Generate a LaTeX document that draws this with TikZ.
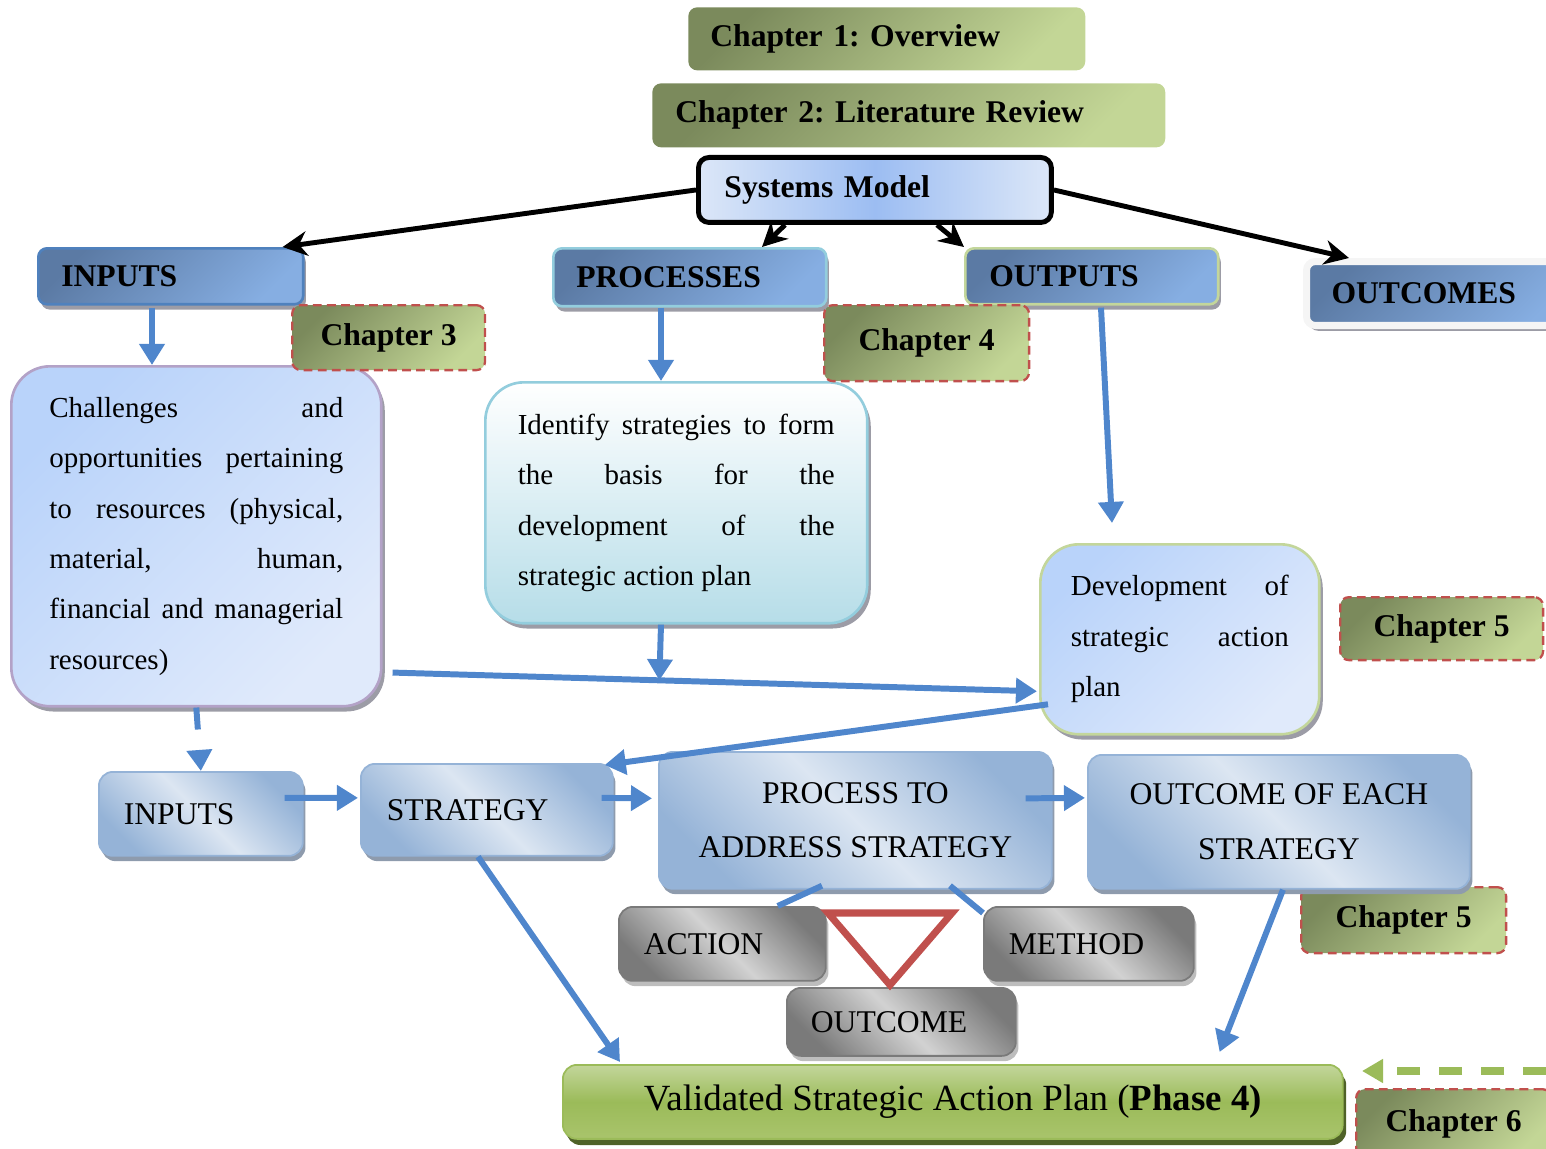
\documentclass[tikz,border=0pt]{standalone}
\usepackage{fontspec}
\setmainfont{Liberation Serif}
\usepackage{tikz}
\usetikzlibrary{arrows.meta,shadows,calc}
\frenchspacing
\newcommand{\FHead}{\fontsize{18}{22}\selectfont\bfseries}
\newcommand{\FText}{\fontsize{16.5}{28.7}\selectfont}
\newcommand{\FStep}{\fontsize{18}{31}\selectfont}
\newcommand{\FPlan}{\fontsize{21}{25}\selectfont}

\definecolor{chdark}{HTML}{7B8A5C}
\definecolor{chlight}{HTML}{C3D696}
\definecolor{chred}{HTML}{C0504D}
\definecolor{cathigh}{HTML}{5B7AA4}
\definecolor{catlow}{HTML}{86AEE2}
\definecolor{catshade}{HTML}{9C9CA6}
\definecolor{inpedge}{HTML}{4F81BD}
\definecolor{procedge}{HTML}{93CDDD}
\definecolor{outpedge}{HTML}{C3D69B}
\definecolor{sysl}{HTML}{DCE7F8}
\definecolor{sysm}{HTML}{9CBDF2}
\definecolor{softa}{HTML}{B9D3FA}
\definecolor{softb}{HTML}{E0EAFB}
\definecolor{softedge}{HTML}{B3A2C7}
\definecolor{identb}{HTML}{B6DDE8}
\definecolor{stepdark}{HTML}{95B3D7}
\definecolor{steplight}{HTML}{DCE6F2}
\definecolor{stepshade}{HTML}{8E9BAD}
\definecolor{greydark}{HTML}{7A7A7A}
\definecolor{greylight}{HTML}{D2D2D2}
\definecolor{greyshade}{HTML}{BDBDBD}
\definecolor{vtop}{HTML}{C3D69B}
\definecolor{vmid}{HTML}{9BBB59}
\definecolor{vbot}{HTML}{A9C46C}
\definecolor{vshade}{HTML}{4F6228}
\definecolor{arrblue}{HTML}{4F86CC}

\begin{document}
\begin{tikzpicture}[x=0.02cm,y=-0.02cm]
\tikzstyle{chap}=[anchor=north west,rounded corners=5pt,top color=chdark,bottom color=chlight,shading angle=45,font=\FHead,inner sep=0pt,align=left]
\tikzstyle{chapdash}=[chap,draw=chred,line width=1.3pt,dash pattern=on 5pt off 3pt,align=center]
\tikzstyle{sysbox}=[anchor=north west,rounded corners=6pt,left color=sysl,right color=sysl,middle color=sysm,draw=black,line width=2.8pt,font=\FHead,inner ysep=0pt,align=left]
\tikzstyle{cat}=[anchor=north west,rounded corners=5pt,top color=cathigh,bottom color=catlow,shading angle=45,line width=1.5pt,font=\FHead,inner ysep=0pt,align=left,drop shadow={shadow xshift=1.5pt,shadow yshift=-3pt,fill=catshade,opacity=1}]
\tikzstyle{soft}=[anchor=north west,rounded corners=22pt,line width=1.5pt,font=\FText,align=justify,drop shadow={shadow xshift=2pt,shadow yshift=-3pt,fill=catshade,opacity=1}]
\tikzstyle{stepbox}=[anchor=north west,rounded corners=8pt,top color=stepdark,bottom color=stepdark,middle color=steplight,shading angle=-45,draw=stepdark,line width=1pt,font=\FStep,inner ysep=0pt,align=left,drop shadow={shadow xshift=1.5pt,shadow yshift=-3pt,fill=stepshade,opacity=1}]
\tikzstyle{greybox}=[anchor=north west,rounded corners=8pt,top color=greydark,bottom color=greydark,middle color=greylight,shading angle=-45,draw=greydark,line width=1pt,font=\FStep,inner ysep=0pt,align=left,drop shadow={shadow xshift=1.5pt,shadow yshift=-3pt,fill=greyshade,opacity=1}]
\tikzstyle{planbox}=[anchor=north west,rounded corners=8pt,top color=vtop,bottom color=vbot,middle color=vmid,draw=vmid,line width=1pt,font=\FPlan,drop shadow={shadow xshift=2pt,shadow yshift=-3.5pt,fill=vshade,opacity=1}]
\tikzstyle{arr}=[draw=arrblue,line width=3.4pt,-{Triangle[length=12pt,width=14pt]}]
\tikzstyle{lnk}=[draw=arrblue,line width=3.4pt]
\tikzstyle{blk}=[draw=black,line width=2.8pt,-{Stealth[length=14pt,width=14pt]}]
\tikzstyle{gdash}=[draw=vmid,line width=4pt,dash pattern=on 0.46cm off 0.38cm,-{Triangle[length=12pt,width=13pt]}]

\useasboundingbox (0,0) rectangle (1546,1149);

% top of the model
\node[chap,minimum height=1.26cm,text width=7.06cm,inner xsep=0.44cm] (ch1) at (688,7) {Chapter 1: Overview};
\node[chap,minimum height=1.28cm,text width=9.34cm,inner xsep=0.46cm] (ch2) at (652,83) {Chapter 2: Literature Review};
\node[sysbox,minimum height=1.3cm,text width=6.02cm,inner xsep=0.52cm] (sys) at (696,155) {Systems Model};

\node[cat,draw=inpedge,minimum height=1.12cm,text width=4.38cm,inner xsep=0.46cm] (inp) at (37,247) {INPUTS};
\node[cat,draw=procedge,minimum height=1.16cm,text width=4.54cm,inner xsep=0.46cm] (proc) at (552,247) {PROCESSES};
\node[cat,draw=outpedge,minimum height=1.12cm,text width=4.1cm,inner xsep=0.48cm] (outp) at (964,247) {OUTPUTS};
\node[cat,draw=gray!8,line width=4pt,minimum height=1.28cm,text width=4.4cm,inner xsep=0.5cm] (outc) at (1303,258) {OUTCOMES};

% text boxes
\node[soft,top color=softa,bottom color=softb,shading angle=45,draw=softedge,minimum height=6.8cm,text width=5.88cm,inner xsep=0.76cm] (chal) at (10,365)
  {Challenges and\linebreak opportunities pertaining\linebreak to resources (physical,\linebreak material, human,\linebreak financial and managerial\linebreak resources)};
\node[soft,top color=white,bottom color=identb,draw=procedge,minimum height=4.82cm,text width=6.34cm,inner xsep=0.65cm] (ident) at (484,381)
  {Identify strategies to form\linebreak the basis for the\linebreak development of the\linebreak strategic action plan};
\node[soft,top color=softa,bottom color=softb,shading angle=45,draw=outpedge,minimum height=3.8cm,text width=4.36cm,inner xsep=0.61cm] (devel) at (1039,543)
  {Development of\linebreak strategic action\linebreak plan};

% chapter tags
\node[chapdash,minimum width=3.86cm,minimum height=1.3cm] (ch3) at (291,304) {Chapter 3};
\node[chapdash,minimum width=4.1cm,minimum height=1.52cm] (ch4) at (823,304) {Chapter 4};
\node[chapdash,minimum width=4.06cm,minimum height=1.26cm] (ch5a) at (1339,596) {Chapter 5};
\node[chapdash,minimum width=4.1cm,minimum height=1.32cm] (ch5b) at (1300,886) {Chapter 5};
\node[chapdash,minimum width=3.9cm,minimum height=1.4cm] (ch6) at (1355,1088) {Chapter 6};

% lower chain
\node[stepbox,minimum height=1.68cm,text width=3.08cm,inner xsep=0.5cm] (inp2) at (98,771) {INPUTS};
\node[stepbox,minimum height=1.84cm,text width=4.0cm,inner xsep=0.52cm] (strat) at (360,763) {STRATEGY};
\node[stepbox,align=center,minimum width=7.86cm,minimum height=2.74cm] (procad) at (658,751) {PROCESS TO\\ADDRESS STRATEGY};
\node[stepbox,align=center,minimum width=7.64cm,minimum height=2.68cm] (outeach) at (1087,754) {OUTCOME OF EACH\\STRATEGY};

\node[greybox,minimum height=1.48cm,text width=3.14cm,inner xsep=0.5cm] (act) at (618,906) {ACTION};
\node[greybox,minimum height=1.48cm,text width=3.2cm,inner xsep=0.5cm] (meth) at (983,906) {METHOD};
\node[greybox,minimum height=1.36cm,text width=3.62cm,inner xsep=0.48cm] (outcm) at (786,987) {OUTCOME};
\draw[chred,line width=4pt] (828,913) -- (952,913) -- (890,985) -- cycle;

\node[planbox,minimum width=15.6cm,minimum height=1.48cm] (plan) at (562,1064) {Validated Strategic Action Plan (\textbf{Phase 4)}};

% black arrows
\draw[blk] (sys.west) -- ($(inp.north east)+(-22,0)$);
\draw[blk] ($(sys.south west)+(89,0)$) -- ($(proc.north west)+(210,0)$);
\draw[blk] ($(sys.south west)+(241,0)$) -- (outp.north west);
\draw[blk] (sys.east) -- ($(outc.north west)+(46,0)$);

% blue arrows
\coordinate (c1) at ($(inp.south west)+(115,2)$);
\draw[arr] (c1) -- (c1 |- chal.north);
\coordinate (c2) at ($(proc.south west)+(109,0)$);
\draw[arr] (c2) -- (c2 |- ident.north);
\draw[arr] ($(outp.south west)+(137,2)$) -- ($(devel.north west)+(73,-20)$);
\coordinate (m1) at ($(chal.south east)+(10,-35)$);
\coordinate (m2) at ($(devel.west)+(-2,52)$);
\draw[arr] (m1) -- (m2);
\coordinate (c3) at ($(ident.south west)+(177,0)$);
\draw[arr] (c3) -- ($(m1)!(c3)!(m2)$);
\draw[arr] ($(devel.west)+(9,65)$) -- ($(strat.north east)+(-9,2)$);
\draw[arr,dash pattern=on 0.44cm off 0.42cm] (chal.south) -- (inp2.north);
\draw[arr] ($(inp2.east)+(-19,-16)$) -- ($(strat.west)+(-2,-12)$);
\draw[arr] ($(strat.east)+(-12,-12)$) -- ($(procad.west)+(-6,-22)$);
\draw[arr] ($(procad.east)+(-27,-22)$) -- ($(outeach.west)+(-2,-24)$);
\draw[arr] ($(strat.south west)+(118,0)$) -- ($(plan.north west)+(58,-2)$);
\draw[arr] ($(outeach.south west)+(196,0)$) -- ($(plan.north east)+(-124,-12)$);
\draw[lnk] ($(procad.south west)+(164,-4)$) -- ($(act.north east)+(-49,0)$);
\draw[lnk] ($(procad.south west)+(292,-4)$) -- ($(meth.north west)+(0,7)$);

\coordinate (g1) at (1546,1071);
\draw[gdash] (g1) -- ($(ch6.north west)+(7,-17)$);
\end{tikzpicture}
\end{document}
